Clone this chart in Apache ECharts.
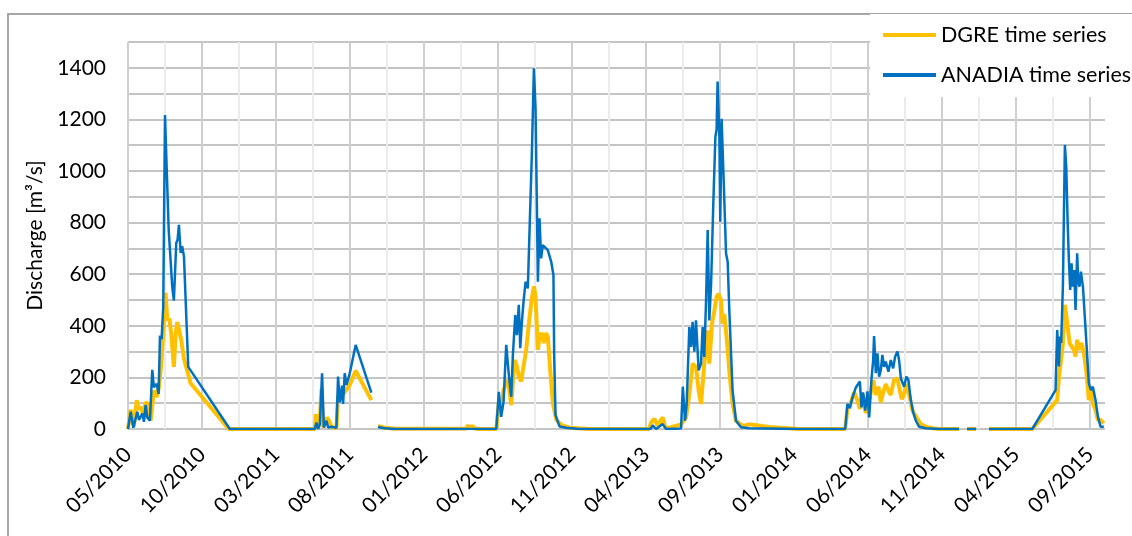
<!DOCTYPE html>
<html>
<head>
<meta charset="utf-8">
<title>Discharge time series</title>
<script src="https://cdn.jsdelivr.net/npm/echarts@6/dist/echarts.min.js"></script>
<style>
  html, body { margin: 0; padding: 0; background: #fff; }
  #chart { width: 1132px; height: 536px; }
</style>
</head>
<body>
<div id="chart"></div>
<script>
// x is counted in months after 05/2010, tick every 5 months
const xTickLabels = ['05/2010', '10/2010', '03/2011', '08/2011', '01/2012', '06/2012', '11/2012',
  '04/2013', '09/2013', '01/2014', '06/2014', '11/2014', '04/2015', '09/2015']

const seriesNames = ['DGRE time series', 'ANADIA time series']

// [month, discharge m3/s], null = no data
const dgreData = [
  [0, 0], [0.18, 75], [0.40, 10], [0.59, 112], [0.74, 74], [0.90, 86], [1.03, 47], [1.19, 103], [1.35, 97],
  [1.53, 32], [1.75, 149], [1.94, 124], [2.09, 162], [2.25, 253], [2.38, 369], [2.54, 528], [2.65, 422],
  [2.79, 429], [2.92, 369], [3.10, 241], [3.22, 369], [3.33, 415], [3.46, 409], [3.60, 344], [3.78, 272],
  [4.23, 177], [6.80, 0], [12.62, 0], [12.69, 58], [12.84, 5], [12.96, 32], [13.07, 155], [13.18, 6],
  [13.45, 45], [13.58, 32], [13.74, 8], [14.08, 3], [14.19, 126], [14.31, 113], [14.53, 135], [14.76, 152],
  [14.98, 171], [15.38, 226], [16.44, 112], [16.65, null], [16.89, 12], [17.34, 5], [18.02, 1], [22.87, 2],
  [22.98, 15], [23.08, 4], [23.28, 12], [23.41, 3], [23.62, 0], [24.88, 0], [25.05, 100], [25.21, 75],
  [25.37, 152], [25.66, 191], [25.89, 93], [26.11, 268], [26.27, 243], [26.40, 204], [26.56, 184],
  [26.72, 243], [26.90, 307], [27.08, 410], [27.24, 488], [27.42, 553], [27.53, 514], [27.69, 307],
  [27.80, 359], [27.94, 372], [28.09, 333], [28.21, 372], [28.36, 359], [28.52, 230], [28.70, 100],
  [28.93, 36], [29.26, 16], [29.82, 5], [31.17, 0], [35.20, 0], [35.34, 26], [35.56, 39], [35.78, 13],
  [36.12, 45], [36.30, 5], [36.57, 5], [37.36, 18], [37.70, 45], [37.92, 136], [38.14, 253], [38.37, 240],
  [38.55, 150], [38.71, 97], [38.93, 253], [39.16, 382], [39.27, 253], [39.45, 408], [39.61, 459],
  [39.76, 511], [39.90, 524], [40.06, 498], [40.17, 408], [40.28, 446], [40.44, 356], [40.62, 227],
  [40.84, 97], [41.07, 32], [41.52, 12], [41.97, 18], [43.32, 8], [45.34, 0], [48.45, 0], [48.60, 78],
  [48.83, 103], [49.06, 142], [49.28, 110], [49.44, 78], [49.62, 136], [49.84, 62], [50.02, 88],
  [50.18, 142], [50.34, 190], [50.52, 132], [50.70, 164], [50.86, 103], [51.01, 142], [51.19, 174],
  [51.37, 148], [51.53, 132], [51.75, 190], [51.98, 196], [52.14, 148], [52.27, 116], [52.43, 136],
  [52.58, 174], [52.77, 132], [53.00, 71], [53.26, 45], [53.55, 19], [53.89, 9], [54.34, 3], [54.79, 0],
  [56.14, 0], [56.40, null], [56.68, 0], [57.29, 0], [57.70, null], [58.16, 0], [61.09, 0], [62.77, 112],
  [62.89, 203], [63.00, 254], [63.16, 333], [63.29, 481], [63.45, 410], [63.61, 333], [63.74, 320],
  [63.90, 307], [64.01, 281], [64.12, 346], [64.24, 307], [64.42, 333], [64.57, 294], [64.73, 229],
  [64.91, 112], [65.05, 151], [65.18, 100], [65.36, 74], [65.52, 35], [65.70, 35], [65.92, 22]
]

const anadiaData = [
  [0, 0], [0.18, 67], [0.36, 5], [0.63, 67], [0.74, 35], [0.97, 60], [1.08, 28], [1.19, 93], [1.30, 45],
  [1.48, 32], [1.64, 229], [1.75, 162], [1.94, 175], [2.07, 136], [2.16, 361], [2.27, 348], [2.38, 474],
  [2.50, 1217], [2.61, 1017], [2.75, 771], [2.83, 764], [2.99, 550], [3.10, 498], [3.26, 721], [3.35, 734],
  [3.44, 791], [3.56, 682], [3.66, 708], [3.78, 669], [4.07, 241], [6.88, 0], [12.62, 0], [12.73, 25],
  [12.84, 0], [12.96, 19], [13.11, 216], [13.23, 6], [13.41, 32], [13.52, 6], [13.74, 9], [14.08, 5],
  [14.19, 203], [14.31, 103], [14.46, 168], [14.53, 97], [14.64, 216], [14.76, 171], [14.98, 216],
  [15.38, 326], [16.44, 141], [16.65, null], [16.89, 8], [17.34, 3], [18.02, 0], [24.88, 0], [25.05, 144],
  [25.21, 47], [25.37, 105], [25.55, 326], [25.73, 209], [25.89, 125], [26.00, 287], [26.16, 442],
  [26.27, 364], [26.40, 481], [26.50, 313], [26.61, 416], [26.72, 494], [26.86, 571], [27.01, 545],
  [27.13, 778], [27.28, 1062], [27.42, 1398], [27.53, 1243], [27.62, 868], [27.69, 571], [27.80, 817],
  [27.91, 661], [28.02, 713], [28.14, 706], [28.36, 693], [28.59, 648], [28.74, 597], [28.79, 287],
  [28.88, 54], [29.15, 10], [29.60, 5], [30.50, 0], [35.30, 0], [35.45, 14], [35.67, 0], [36.12, 19],
  [36.35, 0], [37.36, 2], [37.48, 164], [37.63, 32], [37.74, 97], [37.92, 395], [38.04, 318], [38.14, 415],
  [38.26, 300], [38.37, 421], [38.55, 227], [38.71, 253], [38.82, 395], [38.93, 279], [39.05, 498],
  [39.16, 771], [39.27, 421], [39.39, 563], [39.54, 875], [39.68, 1133], [39.76, 1159], [39.83, 1347],
  [39.95, 1133], [40.01, 803], [40.10, 1202], [40.24, 964], [40.40, 680], [40.51, 648], [40.62, 461],
  [40.84, 150], [41.07, 32], [41.41, 7], [41.97, 3], [45.34, 0], [48.45, 0], [48.60, 97], [48.77, 81],
  [48.94, 122], [49.17, 161], [49.44, 184], [49.55, 84], [49.66, 142], [49.80, 71], [49.95, 146],
  [50.07, 45], [50.22, 190], [50.34, 267], [50.40, 360], [50.52, 216], [50.63, 293], [50.74, 203],
  [50.86, 229], [50.96, 287], [51.08, 241], [51.19, 261], [51.37, 222], [51.53, 267], [51.69, 235],
  [51.82, 280], [51.98, 300], [52.09, 267], [52.21, 196], [52.31, 190], [52.43, 164], [52.58, 203],
  [52.72, 190], [52.88, 113], [53.04, 65], [53.22, 32], [53.44, 9], [53.89, 3], [54.79, 0], [56.14, 0],
  [56.40, null], [56.68, 0], [57.29, 0], [57.70, null], [58.16, 0], [61.09, 0], [62.66, 151], [62.77, 384],
  [62.89, 242], [62.96, 358], [63.04, 333], [63.16, 565], [63.29, 1101], [63.38, 1017], [63.48, 797],
  [63.56, 655], [63.65, 539], [63.74, 642], [63.83, 552], [63.92, 616], [64.01, 461], [64.12, 681],
  [64.19, 571], [64.28, 552], [64.37, 610], [64.51, 552], [64.69, 384], [64.91, 177], [65.05, 151],
  [65.18, 164], [65.36, 112], [65.52, 48], [65.70, 9], [65.81, 16], [65.92, 9]
]

const font = 'Lato, "Open Sans", sans-serif'

const option = {
  animation: false,
  backgroundColor: '#fff',
  textStyle: { fontFamily: font },
  graphic: [{
    type: 'rect',
    silent: true,
    z: -1,
    shape: { x: 8, y: 14, width: 1140, height: 540 },
    style: { fill: 'none', stroke: '#a6a6a6', lineWidth: 2 }
  }],
  grid: { left: 128, right: 27, top: 42, bottom: 107 },
  legend: {
    data: seriesNames,
    orient: 'vertical',
    left: 870,
    top: 14,
    padding: [9, 10, 10, 13],
    backgroundColor: '#fff',
    icon: 'rect',
    itemWidth: 53,
    itemHeight: 4,
    itemGap: 16,
    textStyle: { fontFamily: font, fontSize: 21.5, lineHeight: 24, color: '#000' }
  },
  xAxis: {
    type: 'value',
    min: 0,
    max: 66,
    interval: 5,
    axisLine: { show: false },
    axisTick: { show: false },
    axisLabel: {
      rotate: 45,
      margin: 22,
      fontSize: 21,
      color: '#000',
      fontFamily: font,
      showMaxLabel: false,
      formatter: v => (v % 5 === 0 && xTickLabels[v / 5]) || ''
    },
    splitLine: { show: true, showMaxLine: false, lineStyle: { color: '#cfcfcf', width: 2 } },
    minorTick: { show: false, splitNumber: 2 },
    minorSplitLine: { show: true, lineStyle: { color: '#ebebeb', width: 2 } }
  },
  yAxis: {
    type: 'value',
    min: 0,
    max: 1500,
    interval: 100,
    name: 'Discharge [m³/s]',
    nameLocation: 'middle',
    nameGap: 82,
    nameTextStyle: { fontSize: 21, color: '#000', fontFamily: font },
    axisLine: { show: false },
    axisTick: { show: false },
    axisLabel: {
      margin: 22,
      fontSize: 21,
      color: '#000',
      fontFamily: font,
      formatter: v => (v % 200 === 0 && v < 1500 ? String(v) : '')
    },
    splitLine: { show: true, lineStyle: { color: '#c4c4c4', width: 2 } }
  },
  series: [
    {
      name: seriesNames[0],
      type: 'line',
      data: dgreData,
      showSymbol: false,
      connectNulls: false,
      color: '#FFC000',
      lineStyle: { width: 4, color: '#FFC000' }
    },
    {
      name: seriesNames[1],
      type: 'line',
      data: anadiaData,
      showSymbol: false,
      connectNulls: false,
      color: '#0070C0',
      lineStyle: { width: 2.5, color: '#0070C0' }
    }
  ]
}

const chart = echarts.init(document.getElementById('chart'))
chart.setOption(option)
</script>
</body>
</html>
